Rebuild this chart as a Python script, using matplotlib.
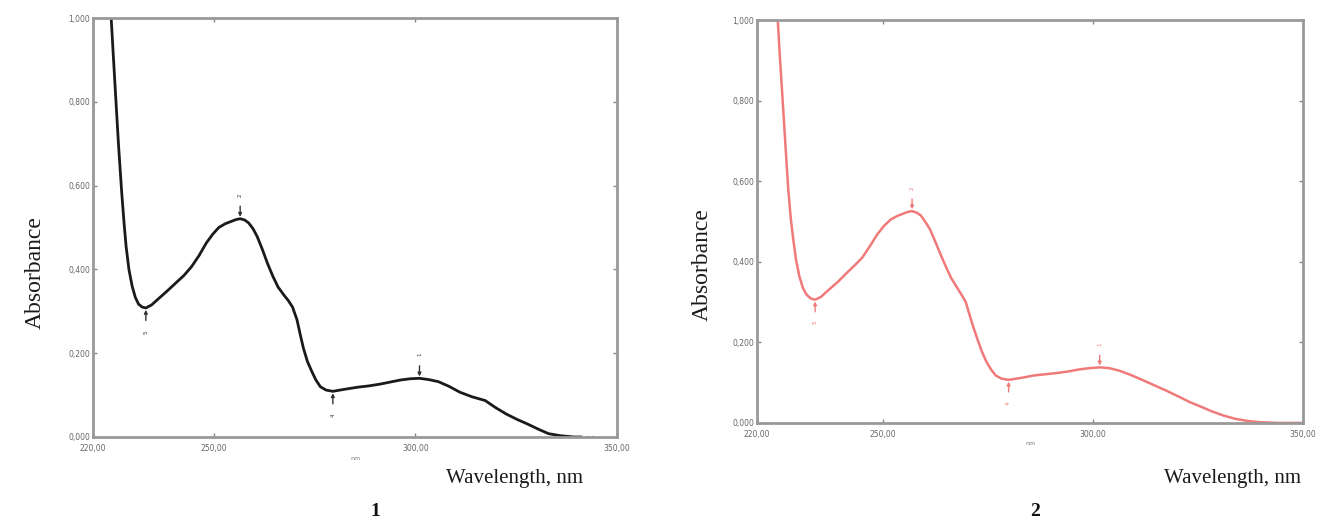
import numpy as np
import matplotlib
matplotlib.use("Agg")
import matplotlib.pyplot as plt

# spectrum 1 (black)
wl_1 = [224.5, 225.0, 225.6, 226.3, 227.1, 227.7, 228.2, 228.9, 229.7, 230.5,
        231.3, 232.2, 233.1, 234.5, 236.0, 238.0, 240.8, 242.5, 244.4, 246.3,
        248.1, 249.7, 251.2, 252.8, 254.4, 255.5, 256.5, 257.6, 258.6, 259.7,
        260.7, 262.0, 263.3, 264.6, 265.9, 267.5, 268.5, 269.5, 270.6, 271.4,
        272.2, 273.2, 274.3, 275.3, 276.4, 277.8, 279.5, 282.5, 285.8, 288.5,
        291.1, 293.7, 296.3, 298.7, 301.0, 303.3, 305.7, 308.3, 311.0, 314.0,
        317.3, 319.9, 322.5, 325.2, 327.8, 330.4, 333.0, 336.0, 339.3, 341.0]
abs_1 = [1.000, 0.915, 0.815, 0.700, 0.585, 0.510, 0.455, 0.400, 0.360, 0.333,
         0.317, 0.310, 0.308, 0.315, 0.328, 0.345, 0.370, 0.385, 0.406, 0.433,
         0.463, 0.484, 0.500, 0.509, 0.515, 0.519, 0.521, 0.518, 0.511, 0.497,
         0.479, 0.448, 0.414, 0.384, 0.358, 0.337, 0.325, 0.310, 0.280, 0.245,
         0.212, 0.180, 0.156, 0.136, 0.120, 0.112, 0.109, 0.114, 0.119, 0.122,
         0.126, 0.131, 0.136, 0.139, 0.140, 0.137, 0.132, 0.121, 0.107, 0.096,
         0.087, 0.070, 0.055, 0.042, 0.031, 0.019, 0.008, 0.003, 0.000, 0.000]
# faint dotted tail at the end of spectrum 1
tail_wl_1 = [341.0, 344.5]
tail_abs_1 = [0.000, 0.000]

# spectrum 2 (pink)
wl_2 = [224.9, 225.4, 226.0, 226.7, 227.4, 228.0, 228.6, 229.3, 230.1, 230.9,
        231.8, 232.8, 233.8, 235.2, 237.2, 239.2, 241.3, 243.1, 245.0, 246.8,
        248.6, 250.2, 251.8, 253.4, 254.9, 255.9, 256.9, 258.0, 259.0, 260.0,
        261.1, 262.4, 263.7, 265.0, 266.2, 267.5, 268.7, 269.7, 270.6, 271.5,
        272.4, 273.5, 274.6, 275.7, 276.8, 278.2, 279.9, 283.0, 286.0, 288.8,
        291.5, 294.2, 296.8, 299.2, 301.6, 303.9, 306.2, 308.8, 311.5, 314.5,
        317.5, 320.3, 323.0, 325.8, 328.5, 331.2, 334.0, 336.8, 339.5, 344.0,
        350.0]
abs_2 = [1.000, 0.910, 0.812, 0.695, 0.580, 0.508, 0.455, 0.402, 0.362, 0.335,
         0.318, 0.309, 0.306, 0.313, 0.332, 0.350, 0.372, 0.390, 0.410, 0.438,
         0.468, 0.489, 0.505, 0.514, 0.520, 0.524, 0.526, 0.522, 0.515, 0.500,
         0.482, 0.451, 0.418, 0.387, 0.360, 0.338, 0.318, 0.300, 0.268, 0.238,
         0.210, 0.178, 0.152, 0.133, 0.118, 0.110, 0.107, 0.112, 0.118, 0.121,
         0.124, 0.128, 0.133, 0.136, 0.138, 0.136, 0.130, 0.120, 0.108, 0.094,
         0.080, 0.066, 0.052, 0.040, 0.028, 0.018, 0.010, 0.005, 0.002, 0.000,
         0.000]

# peak / valley picks: (wavelength, absorbance, label, is_peak)
picks_1 = [(233.1, 0.308, "5", False), (256.5, 0.521, "2", True),
           (279.5, 0.109, "4", False), (301.0, 0.140, "1", True)]
picks_2 = [(233.8, 0.306, "5", False), (256.9, 0.526, "2", True),
           (279.9, 0.107, "4", False), (301.6, 0.138, "1", True)]

x_ticks = [220, 250, 300, 350]
x_ticklabels = ["220,00", "250,00", "300,00", "350,00"]
y_ticks = [0.0, 0.2, 0.4, 0.6, 0.8, 1.0]
y_ticklabels = ["0,000", "0,200", "0,400", "0,600", "0,800", "1,000"]

fig = plt.figure(figsize=(13.18, 5.3), dpi=100)
ax1 = fig.add_axes([0.0706, 0.1755, 0.3975, 0.7905])
ax2 = fig.add_axes([0.5745, 0.202, 0.4140, 0.760])


def style_axes(ax, lbl_y, nm_y, wl_xy, num_xy):
    ax.set_xlim(220, 350)
    ax.set_ylim(0, 1.0)
    ax.set_xticks(x_ticks)
    ax.set_xticklabels(x_ticklabels)
    ax.set_yticks(y_ticks)
    ax.set_yticklabels(y_ticklabels)
    ax.tick_params(direction="in", length=3, width=1, color="#888888",
                   labelsize=5.5, labelcolor="#666666",
                   top=True, right=True, pad=2)
    ax.tick_params(axis="x", pad=5)
    for sp in ax.spines.values():
        sp.set_color("#999999")
        sp.set_linewidth(2)
    ax.text(0.5, nm_y, "nm", transform=ax.transAxes, fontsize=4.5,
            color="#777777", ha="center", va="top")
    ax.text(lbl_y[0], lbl_y[1], "Absorbance", transform=fig.transFigure,
            rotation=90, fontsize=17, family="Liberation Serif",
            color="#1a1a1a", ha="center", va="center")
    ax.text(wl_xy[0], wl_xy[1], "Wavelength, nm", transform=fig.transFigure,
            fontsize=15, family="Liberation Serif", color="#1a1a1a",
            ha="center", va="center")
    ax.text(num_xy[0], num_xy[1], num_xy[2], transform=fig.transFigure,
            fontsize=14, family="Liberation Serif", weight="bold",
            color="#111111", ha="center", va="center")


def add_picks(ax, picks, color):
    for x, y, lab, is_peak in picks:
        d = 0.03 if is_peak else -0.03
        ax.annotate("", xy=(x, y + 0.15 * d), xytext=(x, y + d),
                    arrowprops=dict(arrowstyle="-|>", color=color, lw=1,
                                    mutation_scale=5, shrinkA=0, shrinkB=0))
        ax.text(x, y + 1.9 * d, lab, fontsize=4, color=color, rotation=90,
                ha="center", va="center")


ax1.plot(wl_1, abs_1, color="#1a1a1a", lw=2.0, solid_joinstyle="round")
ax1.plot(tail_wl_1, tail_abs_1, color="#444444", lw=1.5, ls=":")
add_picks(ax1, picks_1, "#333333")
style_axes(ax1, (0.027, 0.485), -0.045, (0.39, 0.097), (0.285, 0.035, "1"))

ax2.plot(wl_2, abs_2, color="#f07a7a", lw=1.8, solid_joinstyle="round")
add_picks(ax2, picks_2, "#f07a7a")
style_axes(ax2, (0.533, 0.5), -0.045, (0.935, 0.097), (0.785, 0.035, "2"))

fig.savefig("out.png", dpi=100, facecolor="white")
